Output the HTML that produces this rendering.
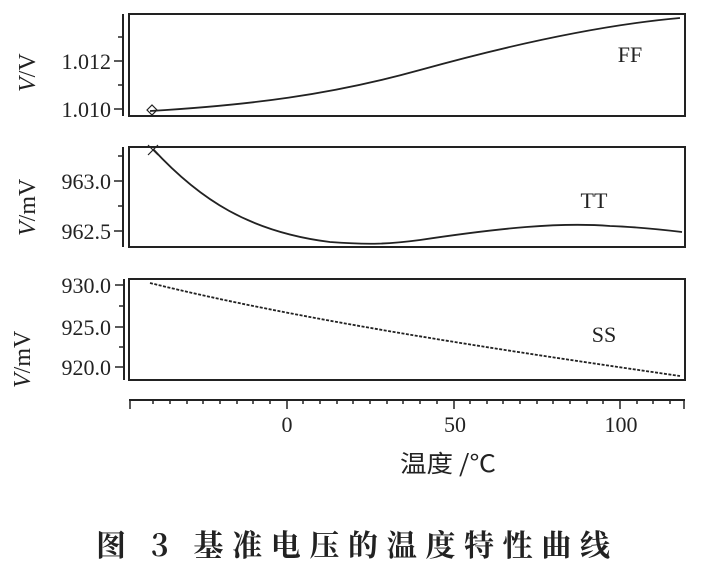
<!DOCTYPE html>
<html><head><meta charset="utf-8"><style>
body{margin:0;background:#fff;width:719px;height:565px;overflow:hidden}
svg text{font-family:"Liberation Serif","Noto Serif CJK SC",serif;fill:#222}
</style></head><body>
<svg width="719" height="565" viewBox="0 0 719 565" xmlns="http://www.w3.org/2000/svg">
<g stroke="#222" fill="none" stroke-width="2">
<rect x="129" y="14" width="556" height="102"/>
<rect x="129" y="147" width="556" height="100"/>
<rect x="129" y="279" width="556" height="101"/>
<line x1="123" y1="14" x2="123" y2="116"/>
<line x1="123" y1="147" x2="123" y2="247"/>
<line x1="124" y1="279" x2="124" y2="380"/>
<line x1="129" y1="400" x2="685" y2="400"/>
</g>
<g stroke="#222" stroke-width="1.5">
<line x1="114" y1="61" x2="123" y2="61"/><line x1="114" y1="109" x2="123" y2="109"/>
<line x1="118" y1="37" x2="123" y2="37"/><line x1="118" y1="85" x2="123" y2="85"/>
<line x1="114" y1="181" x2="123" y2="181"/><line x1="114" y1="231" x2="123" y2="231"/>
<line x1="118" y1="156" x2="123" y2="156"/><line x1="118" y1="206" x2="123" y2="206"/>
<line x1="115" y1="285" x2="124" y2="285"/><line x1="115" y1="327" x2="124" y2="327"/><line x1="115" y1="367" x2="124" y2="367"/>
<line x1="119" y1="306" x2="124" y2="306"/><line x1="119" y1="347" x2="124" y2="347"/>
<line x1="287" y1="400" x2="287" y2="409"/><line x1="454" y1="400" x2="454" y2="409"/><line x1="620" y1="400" x2="620" y2="409"/>
<line x1="130" y1="400" x2="130" y2="409"/><line x1="684" y1="400" x2="684" y2="409"/>
<path d="M153 400v4M170 400v4M187 400v4M203 400v4M220 400v4M237 400v4M253 400v4M270 400v4M303 400v4M320 400v4M337 400v4M353 400v4M370 400v4M387 400v4M403 400v4M420 400v4M437 400v4M470 400v4M487 400v4M503 400v4M520 400v4M537 400v4M553 400v4M570 400v4M587 400v4M603 400v4M637 400v4M653 400v4M670 400v4"/>
</g>
<g fill="none" stroke="#222" stroke-width="1.8">
<path d="M150 111 C250 105 330 95 420 70 S600 25 680 18"/>
<path d="M153 149 C200 200 250 232 330 242 C370 245 390 244 420 240 C500 228 560 222 610 226 C640 227 665 230 682 232"/>
<path d="M150 283 C300 320 500 350 680 376" stroke-dasharray="3 1.5"/>
</g>
<path d="M147 110 l5 -5 l5 5 l-5 5z" fill="none" stroke="#222" stroke-width="1.2"/>
<path d="M148 145 l10 10 M158 145 l-10 10" stroke="#222" stroke-width="1.2"/>
<g font-size="22" text-anchor="end">
<text x="111" y="69">1.012</text><text x="111" y="117">1.010</text>
<text x="111" y="189">963.0</text><text x="111" y="239">962.5</text>
<text x="111" y="293">930.0</text><text x="111" y="335">925.0</text><text x="111" y="375">920.0</text>
</g>
<g font-size="22" text-anchor="middle">
<text x="287" y="432">0</text><text x="455" y="432">50</text><text x="621" y="432">100</text>
<text x="630" y="62">FF</text><text x="594" y="208">TT</text><text x="604" y="342">SS</text>
</g>
<text x="400" y="472" font-size="24" textLength="96" lengthAdjust="spacingAndGlyphs" style="font-family:'Noto Sans CJK SC',sans-serif">温度 /℃</text>
<g font-size="24">
<text transform="translate(35,92) rotate(-90)"><tspan font-style="italic">V</tspan>/V</text>
<text transform="translate(35,236) rotate(-90)"><tspan font-style="italic">V</tspan>/mV</text>
<text transform="translate(30,388) rotate(-90)"><tspan font-style="italic">V</tspan>/mV</text>
</g>
<text x="96" y="556" font-size="30" textLength="514" lengthAdjust="spacing" style="font-family:'Noto Serif CJK SC',serif;font-weight:bold">图 3  基准电压的温度特性曲线</text>
</svg>
</body></html>
